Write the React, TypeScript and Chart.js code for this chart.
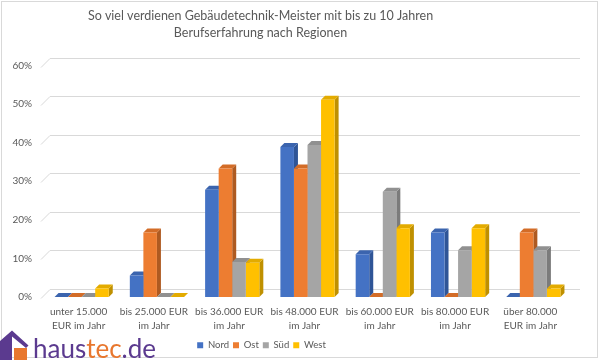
import React, { useEffect, useRef } from "react";
import { Chart, registerables } from "chart.js";

Chart.register(...registerables);

const titleLines = [
  "So viel verdienen Gebäudetechnik-Meister mit bis zu 10 Jahren",
  "Berufserfahrung nach Regionen",
];
const categories = [
  ["unter 15.000", "EUR im Jahr"],
  ["bis 25.000 EUR", "im Jahr"],
  ["bis 36.000 EUR", "im Jahr"],
  ["bis 48.000 EUR", "im Jahr"],
  ["bis 60.000 EUR", "im Jahr"],
  ["bis 80.000 EUR", "im Jahr"],
  ["über 80.000", "EUR im Jahr"],
];
const seriesNames = ["Nord", "Ost", "Süd", "West"];
const nord = [0, 5.6, 27.8, 38.9, 11.1, 16.7, 0];
const ost = [0, 16.7, 33.3, 33.3, 0, 0, 16.7];
const sued = [0, 0, 9.1, 39.4, 27.3, 12.1, 12.1];
const west = [2.2, 0, 8.9, 51.1, 17.8, 17.8, 2.2];
const yMax = 60;
const yStep = 10;

const frontColors = ["#4472C4", "#ED7D31", "#A5A5A5", "#FFC000"];
const topColors = ["#3B64AE", "#D36C27", "#909090", "#E3AB00"];
const sideColors = ["#2F5597", "#AE5A21", "#7B7B7B", "#BF9000"];

const DX = 4;
const DY = 4;
const FONT = "Lato, 'Open Sans', sans-serif";
const TEXT = "#595959";

const depthPlugin = {
  id: "depth3d",
  beforeDraw(chart: any) {
    const ctx = chart.ctx;
    ctx.save();
    ctx.fillStyle = "#ffffff";
    ctx.fillRect(0, 0, chart.width, chart.height);
    ctx.strokeStyle = "#d9d9d9";
    ctx.lineWidth = 1;
    ctx.strokeRect(1.5, 1.5, chart.width - 4, chart.height - 4);
    ctx.restore();
  },
  afterLayout(chart: any) {
    const t = chart.titleBlock;
    if (t) {
      t.left -= 25;
      t.right -= 25;
    }
    const l = chart.legend;
    if (l) {
      l.left -= 24;
      l.right -= 24;
    }
  },
  beforeDatasetsDraw(chart: any) {
    const ctx = chart.ctx;
    const a = chart.chartArea;
    const ys = chart.scales.y;
    ctx.save();
    ctx.strokeStyle = "#d9d9d9";
    ctx.lineWidth = 1;
    ys.ticks.forEach((t: any) => {
      const py = Math.round(ys.getPixelForValue(t.value)) + 0.5;
      ctx.beginPath();
      ctx.moveTo(a.left - 3, py + 1);
      ctx.lineTo(a.left + 6, py - 8);
      ctx.lineTo(a.right + 9, py - 8);
      ctx.stroke();
    });
    const metas = chart.getSortedVisibleDatasetMetas();
    const n = chart.data.labels.length;
    for (let i = 0; i < n; i++) {
      for (const m of metas) {
        const el = m.data[i];
        if (!el) continue;
        const p = el.getProps(["x", "y", "base", "width"], true);
        const l = p.x - p.width / 2;
        const r = p.x + p.width / 2;
        const top = Math.min(p.y, p.base);
        const base = Math.max(p.y, p.base);
        const di = m.index;
        ctx.fillStyle = sideColors[di];
        ctx.beginPath();
        ctx.moveTo(r, top);
        ctx.lineTo(r + DX, top - DY);
        ctx.lineTo(r + DX, base - DY);
        ctx.lineTo(r, base);
        ctx.closePath();
        ctx.fill();
        ctx.fillStyle = topColors[di];
        ctx.beginPath();
        ctx.moveTo(l, top);
        ctx.lineTo(l + DX, top - DY);
        ctx.lineTo(r + DX, top - DY);
        ctx.lineTo(r, top);
        ctx.closePath();
        ctx.fill();
      }
    }
    ctx.restore();
  },
  afterDraw(chart: any) {
    const ctx = chart.ctx;
    ctx.save();
    ctx.fillStyle = "#5B3A8F";
    ctx.beginPath();
    ctx.moveTo(0, 341);
    ctx.lineTo(12, 330.5);
    ctx.lineTo(28.5, 345.5);
    ctx.lineTo(26, 348);
    ctx.lineTo(12, 336.5);
    ctx.lineTo(12, 360);
    ctx.lineTo(0, 360);
    ctx.closePath();
    ctx.fill();
    ctx.fillStyle = "#E8772E";
    ctx.fillRect(14, 348, 13, 12);
    ctx.font = `26px ${FONT}`;
    ctx.textBaseline = "alphabetic";
    ctx.textAlign = "left";
    let x = 33;
    const parts: [string, string][] = [
      ["haus", "#5B3A8F"],
      ["tec", "#E8772E"],
      [".de", "#5B3A8F"],
    ];
    for (const [s, c] of parts) {
      ctx.fillStyle = c;
      ctx.fillText(s, x, 358);
      x += ctx.measureText(s).width;
    }
    ctx.restore();
  },
};

export default function App() {
  const ref = useRef<HTMLCanvasElement>(null);
  useEffect(() => {
    if (!ref.current) return;
    const data = [nord, ost, sued, west];
    const chart = new Chart(ref.current, {
      type: "bar",
      data: {
        labels: categories,
        datasets: seriesNames.map((name, i) => ({
          label: name,
          data: data[i],
          backgroundColor: frontColors[i],
          borderWidth: 0,
          categoryPercentage: 0.72,
          barPercentage: 1,
        })),
      },
      options: {
        animation: false,
        responsive: false,
        devicePixelRatio: 1,
        layout: { padding: { left: 0, right: 29, top: 0, bottom: 0 } },
        plugins: {
          title: {
            display: true,
            text: titleLines,
            color: TEXT,
            font: { family: FONT, size: 12.5, weight: "normal", lineHeight: 1.35 },
            padding: { top: 8, bottom: 23.75 },
          },
          legend: {
            position: "bottom",
            labels: {
              color: TEXT,
              font: { family: FONT, size: 9.5 },
              boxWidth: 6,
              boxHeight: 6,
              padding: 4,
            },
          },
          tooltip: { enabled: false },
        },
        scales: {
          x: {
            grid: { display: false, drawTicks: false },
            border: { display: false },
            ticks: {
              color: TEXT,
              font: { family: FONT, size: 10, lineHeight: 1.4 },
              maxRotation: 0,
              autoSkip: false,
              padding: 8,
              labelOffset: -3,
            },
            afterFit: (s: any) => {
              s.height = 39.5;
            },
          },
          y: {
            min: 0,
            max: yMax,
            grid: { display: false, drawTicks: false },
            border: { display: false },
            ticks: {
              stepSize: yStep,
              color: TEXT,
              font: { family: FONT, size: 10 },
              padding: 12,
              callback: (v: any) => `${v}%`,
            },
            afterFit: (s: any) => {
              s.width = 44;
            },
          },
        },
      },
      plugins: [depthPlugin],
    } as any);
    return () => chart.destroy();
  }, []);
  return (
    <div style={{ position: "fixed", left: 0, top: 0, width: 600, height: 360, background: "#fff" }}>
      <canvas ref={ref} width={600} height={360} style={{ width: 600, height: 360, display: "block" }} />
    </div>
  );
}
